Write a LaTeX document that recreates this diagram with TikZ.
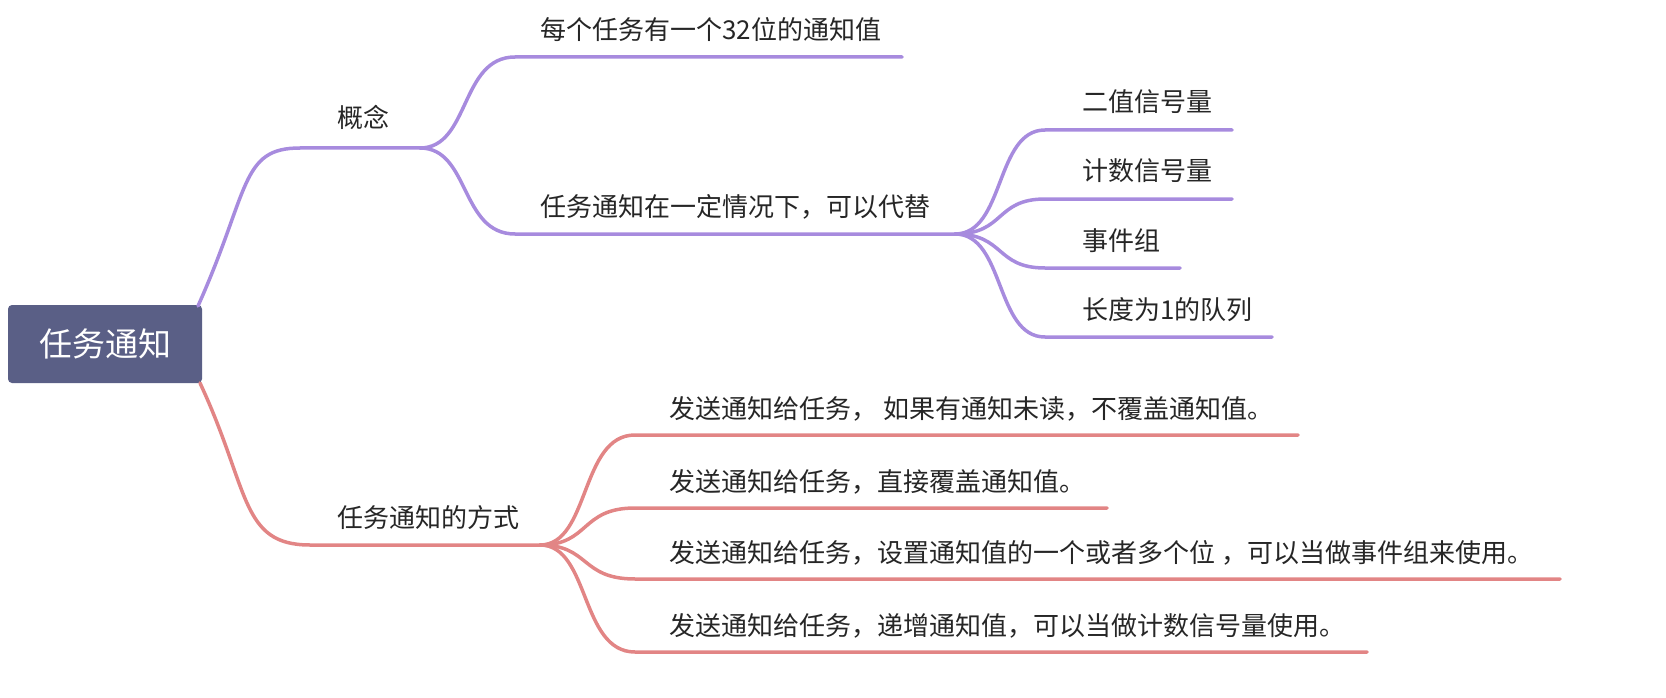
\documentclass[tikz,border=0pt]{standalone}
\usepackage{fontspec}
\setmainfont{Noto Sans CJK SC}
\definecolor{purp}{HTML}{A78BDE}
\definecolor{redd}{HTML}{E28585}
\definecolor{rootc}{HTML}{5A5F86}
\begin{document}
\begin{tikzpicture}[x=1pt,y=-1pt,
  pur/.style={draw=purp,line width=3.5pt,line cap=round},
  red/.style={draw=redd,line width=3.5pt,line cap=round},
  lbl/.style={anchor=base west,inner sep=0pt,font=\fontsize{26}{30}\selectfont,text=black!85}]
\node[fill=rootc,rounded corners=4pt,minimum width=194pt,minimum height=78pt,text=white,font=\fontsize{33}{38}\selectfont] (root) at (105,344) {任务通知};
\coordinate (pa) at (198,306);
\coordinate (ra) at (200,383);
\coordinate (c1) at (420,148);
\coordinate (c2) at (540,545);
\coordinate (c3) at (955,234);
\draw[pur] (pa) .. controls (250,190) and (240,148) .. (300,148) -- (c1);
\node[lbl] (n1) at (337,128) {概念};
\draw[pur] (c1) .. controls (470,148) and (460,57) .. (515,57) -- (902,57);
\node[lbl] (n11) at (540,40) {每个任务有一个32位的通知值};
\draw[pur] (c1) .. controls (470,148) and (460,234) .. (515,234) -- (c3);
\node[lbl] (n12) at (540,216) {任务通知在一定情况下，可以代替};
\draw[pur] (c3) .. controls (1005,234) and (995,130) .. (1045,130) -- (1232,130);
\node[lbl] (a1) at (1082,112) {二值信号量};
\draw[pur] (c3) .. controls (1005,234) and (995,199) .. (1045,199) -- (1232,199);
\node[lbl] (a2) at (1082,181) {计数信号量};
\draw[pur] (c3) .. controls (1005,234) and (995,268) .. (1045,268) -- (1180,268);
\node[lbl] (a3) at (1082,250) {事件组};
\draw[pur] (c3) .. controls (1005,234) and (995,337) .. (1045,337) -- (1272,337);
\node[lbl] (a4) at (1082,319) {长度为1的队列};
\draw[red] (ra) .. controls (250,490) and (240,545) .. (310,545) -- (c2);
\node[lbl] (m) at (337,527) {任务通知的方式};
\draw[red] (c2) .. controls (590,545) and (580,435) .. (635,435) -- (1298,435);
\node[lbl] (b1) at (669,418) {发送通知给任务， 如果有通知未读，不覆盖通知值。};
\draw[red] (c2) .. controls (590,545) and (580,508) .. (635,508) -- (1107,508);
\node[lbl] (b2) at (669,491) {发送通知给任务，直接覆盖通知值。};
\draw[red] (c2) .. controls (590,545) and (580,579) .. (635,579) -- (1560,579);
\node[lbl] (b3) at (669,562) {发送通知给任务，设置通知值的一个或者多个位 ，可以当做事件组来使用。};
\draw[red] (c2) .. controls (590,545) and (580,652) .. (635,652) -- (1367,652);
\node[lbl] (b4) at (669,635) {发送通知给任务，递增通知值，可以当做计数信号量使用。};
\pgfresetboundingbox
\useasboundingbox (0,0) rectangle (1666,698);
\end{tikzpicture}
\end{document}
